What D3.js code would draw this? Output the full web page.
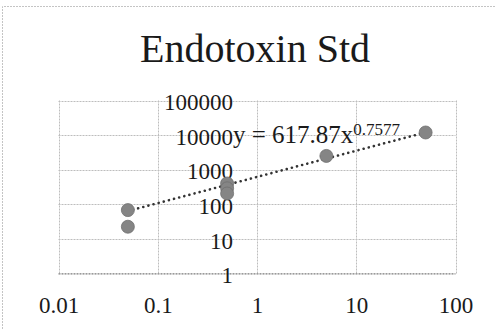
<!DOCTYPE html>
<html>
<head>
<meta charset="utf-8">
<script src="https://cdn.jsdelivr.net/npm/d3@7"></script>
<style>
  html, body { margin: 0; padding: 0; background: #fff; }
  svg { display: block; }
  text { font-family: "Liberation Serif", "DejaVu Serif", serif; fill: #1a1a1a; }
</style>
</head>
<body>
<svg id="chart" width="495" height="329"></svg>
<script>
// Endotoxin standard curve: concentration vs. signal, log-log with power trendline
const concentrations = [0.05, 0.05, 0.5, 0.5, 0.5, 5, 50];
const signals        = [68, 22.5, 400, 290, 205, 2500, 11900];
const xTickValues = [0.01, 0.1, 1, 10, 100];
const yTickValues = [1, 10, 100, 1000, 10000, 100000];
const xTickLabels = ["0.01", "0.1", "1", "10", "100"];
const yTickLabels = ["1", "10", "100", "1000", "10000", "100000"];
const trendCoef = 617.87;
const trendExp = 0.7577;
const chartTitle = "Endotoxin Std";

const svg = d3.select("#chart");
const W = 495, H = 329;
const plot = { left: 58.5, right: 455.5, top: 100.5, bottom: 273.5 };

// outer chart frame (top and left edges visible)
svg.append("path")
  .attr("d", `M2.5,${H} V6.5 H${W}`)
  .attr("fill", "none")
  .attr("stroke", "#c4c4c4")
  .attr("stroke-width", 1)
  .attr("stroke-dasharray", "2,1");

const x = d3.scaleLog().domain([0.01, 100]).range([plot.left, plot.right]);
const y = d3.scaleLog().domain([1, 100000]).range([plot.bottom, plot.top]);

// gridlines
const grid = svg.append("g").attr("stroke", "#bdbdbd").attr("stroke-width", 1)
  .attr("stroke-dasharray", "2,1");
grid.selectAll("line.h").data(yTickValues).join("line")
  .attr("x1", plot.left).attr("x2", plot.right)
  .attr("y1", d => Math.round(y(d)) + 0.5).attr("y2", d => Math.round(y(d)) + 0.5);
grid.selectAll("line.v").data(xTickValues).join("line")
  .attr("y1", plot.top).attr("y2", plot.bottom)
  .attr("x1", d => Math.round(x(d)) + 0.5).attr("x2", d => Math.round(x(d)) + 0.5);
grid.append("line")
  .attr("x1", plot.left).attr("x2", plot.right)
  .attr("y1", plot.bottom).attr("y2", plot.bottom)
  .attr("stroke", "#9a9a9a");

// title
svg.append("text")
  .attr("x", 255).attr("y", 62)
  .attr("text-anchor", "middle")
  .attr("font-size", 40)
  .text(chartTitle);

// x axis labels below the plot
const xAxis = d3.axisBottom(x).tickValues(xTickValues)
  .tickFormat((d, i) => xTickLabels[i]).tickSize(0).tickPadding(0);
const gx = svg.append("g").attr("transform", "translate(0,297)").call(xAxis);
gx.select(".domain").remove();
gx.selectAll("text").attr("font-size", 23).attr("dy", "0.71em")
  .style("font-family", "Liberation Serif, serif").attr("fill", "#1a1a1a");

// y axis labels, drawn where the axis crosses at x = 1
const yAxis = d3.axisLeft(y).tickValues(yTickValues)
  .tickFormat((d, i) => yTickLabels[i]).tickSize(0).tickPadding(0);
const gy = svg.append("g").attr("transform", `translate(${x(1) - 24},0)`).call(yAxis);
gy.select(".domain").remove();
gy.selectAll("text").attr("font-size", 23).attr("dy", "0.4em")
  .style("font-family", "Liberation Serif, serif").attr("fill", "#1a1a1a");

// power trendline y = a * x^b, dotted
const xMin = d3.min(concentrations), xMax = d3.max(concentrations);
const trendPts = d3.range(0, 41).map(i => {
  const xv = xMin * Math.pow(xMax / xMin, i / 40);
  return [xv, trendCoef * Math.pow(xv, trendExp)];
});
svg.append("path")
  .datum(trendPts)
  .attr("fill", "none")
  .attr("stroke", "#333")
  .attr("stroke-width", 2.6)
  .attr("stroke-linecap", "round")
  .attr("stroke-dasharray", "0.1,5.2")
  .attr("d", d3.line().x(d => x(d[0])).y(d => y(d[1])));

// data points
svg.append("g").selectAll("circle")
  .data(concentrations.map((c, i) => [c, signals[i]]))
  .join("circle")
  .attr("cx", d => x(d[0]))
  .attr("cy", d => y(d[1]))
  .attr("r", 6.5)
  .attr("fill", "#858585")
  .attr("stroke", "#6e6e6e")
  .attr("stroke-width", 0.8);

// trendline equation
const eq = svg.append("text")
  .attr("x", 233).attr("y", 143)
  .attr("font-size", 25);
eq.append("tspan").text(`y = ${trendCoef}x`);
eq.append("tspan").attr("font-size", 17).attr("dy", -8).text(trendExp);
</script>
</body>
</html>
